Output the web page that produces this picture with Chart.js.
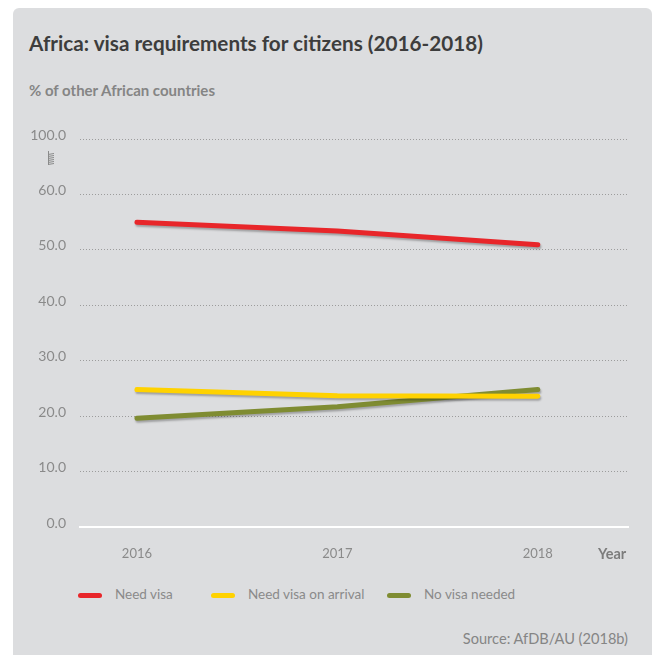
<!DOCTYPE html>
<html>
<head>
<meta charset="utf-8">
<script src="https://cdn.jsdelivr.net/npm/chart.js@4/dist/chart.umd.min.js"></script>
<style>
  html, body { margin: 0; padding: 0; background: #fff; }
  body { width: 654px; height: 655px; position: relative; overflow: hidden; font-family: Lato, sans-serif; }
  .panel { position: absolute; left: 13px; top: 8px; width: 639px; height: 660px; background: #dcdddf; border-radius: 6px; }
  .title { position: absolute; left: 29px; top: 31px; font-size: 20.7px; font-weight: bold; color: #3d3d3d; white-space: nowrap; }
  .subtitle { position: absolute; left: 29px; top: 81px; font-size: 15px; font-weight: bold; color: #858585; white-space: nowrap; }
  .year { position: absolute; left: 598px; top: 545px; font-size: 14.5px; font-weight: bold; color: #7c7c7c; }
  .source { position: absolute; right: 26px; top: 630px; font-size: 14.6px; color: #858585; white-space: nowrap; }
  .legend { position: absolute; top: 586px; left: 0; font-size: 13.5px; color: #8a8a8a; }
  .legend .item { position: absolute; white-space: nowrap; }
  .legend .bar { position: absolute; top: 7px; width: 24px; height: 5px; border-radius: 3px; }
  .legend .label { position: absolute; top: 0; }
  canvas { position: absolute; left: 0; top: 0; }
</style>
</head>
<body>
<div class="panel"></div>
<div class="title">Africa: visa requirements for citizens (2016-2018)</div>
<div class="subtitle">% of other African countries</div>
<div id="wrap" style="position:absolute;left:0;top:0;width:654px;height:575px;">
  <canvas id="chart"></canvas>
</div>
<div class="year">Year</div>
<div class="legend" id="legend"></div>
<div class="source">Source: AfDB/AU (2018b)</div>

<script>
// data
const years = [2016, 2017, 2018];
const needVisa = [55.0, 53.4, 50.9];
const needVisaOnArrival = [24.8, 23.7, 23.6];
const noVisaNeeded = [19.6, 21.7, 24.8];

const seriesNames = ['Need visa', 'Need visa on arrival', 'No visa needed'];
const seriesColors = ['#e8262a', '#ffd200', '#7f8c32'];

// y axis is broken between 60 and 100: the top tick sits one step above 60
const yTickValues = [0, 10, 20, 30, 40, 50, 60, 70];
const yTickLabels = ['0.0', '10.0', '20.0', '30.0', '40.0', '50.0', '60.0', '100.0'];

const toPoints = (vals) => vals.map((v, i) => ({ x: years[i], y: v }));

// soft drop shadow under the lines
const shadowPlugin = {
  id: 'lineShadow',
  beforeDatasetsDraw(chart) {
    const ctx = chart.ctx;
    ctx.save();
    ctx.shadowColor = 'rgba(0,0,0,0.28)';
    ctx.shadowBlur = 2;
    ctx.shadowOffsetX = 1;
    ctx.shadowOffsetY = 2;
  },
  afterDatasetsDraw(chart) {
    chart.ctx.restore();
  }
};

// little spring glyph marking the axis break
const breakPlugin = {
  id: 'axisBreak',
  afterDraw(chart) {
    const ctx = chart.ctx;
    const y = chart.scales.y;
    const top = y.getPixelForValue(70) + 14;
    const x = 51;
    ctx.save();
    ctx.strokeStyle = '#8a8a8a';
    ctx.lineWidth = 1;
    ctx.beginPath();
    ctx.moveTo(x - 2.5, top - 2);
    ctx.lineTo(x - 2.5, top + 12);
    for (let i = 0; i < 6; i++) {
      ctx.moveTo(x - 3, top + i * 2 + 1.5);
      ctx.lineTo(x + 3, top + i * 2 + 0.5);
    }
    ctx.stroke();
    ctx.restore();
  }
};

const datasets = [needVisa, needVisaOnArrival, noVisaNeeded].map((vals, i) => ({
  label: seriesNames[i],
  data: toPoints(vals),
  borderColor: seriesColors[i],
  backgroundColor: seriesColors[i],
  borderWidth: 5,
  borderCapStyle: 'round',
  borderJoinStyle: 'round',
  pointRadius: 0,
  tension: 0,
  fill: false
}));

new Chart(document.getElementById('chart'), {
  type: 'line',
  data: { datasets },
  options: {
    responsive: true,
    maintainAspectRatio: false,
    animation: false,
    layout: { padding: { top: 139, right: 26, left: 0, bottom: 0 } },
    plugins: {
      legend: { display: false },
      tooltip: { enabled: false }
    },
    scales: {
      x: {
        type: 'linear',
        min: 2015.716,
        max: 2018.45,
        afterBuildTicks: (scale) => { scale.ticks = years.map(v => ({ value: v })); },
        afterFit: (scale) => { scale.height = 48; },
        grid: { display: false, drawTicks: false },
        border: { display: true, color: '#ffffff', width: 2 },
        ticks: {
          padding: 19,
          color: '#8a8a8a',
          font: { family: 'Lato', size: 13 },
          maxRotation: 0,
          callback: (v) => String(v)
        }
      },
      y: {
        min: 0,
        max: 70,
        afterBuildTicks: (scale) => { scale.ticks = yTickValues.map(v => ({ value: v })); },
        afterFit: (scale) => { scale.width = 80; },
        grid: {
          drawTicks: false,
          color: (c) => (c.tick && c.tick.value === 0 ? 'rgba(0,0,0,0)' : '#9c9c9c'),
          lineWidth: 1
        },
        border: { display: false, dash: [1, 2] },
        ticks: {
          padding: 14,
          labelOffset: -4,
          color: '#8a8a8a',
          font: { family: 'Lato', size: 14 },
          callback: (v) => yTickLabels[yTickValues.indexOf(v)]
        }
      }
    }
  },
  plugins: [shadowPlugin, breakPlugin]
});

// legend
const legendX = [78, 211, 387];
const legend = document.getElementById('legend');
seriesNames.forEach((name, i) => {
  const item = document.createElement('div');
  item.className = 'item';
  item.style.left = legendX[i] + 'px';
  item.innerHTML = '<div class="bar" style="left:0;background:' + seriesColors[i] + '"></div>' +
    '<div class="label" style="left:37px">' + name + '</div>';
  legend.appendChild(item);
});
</script>
</body>
</html>
